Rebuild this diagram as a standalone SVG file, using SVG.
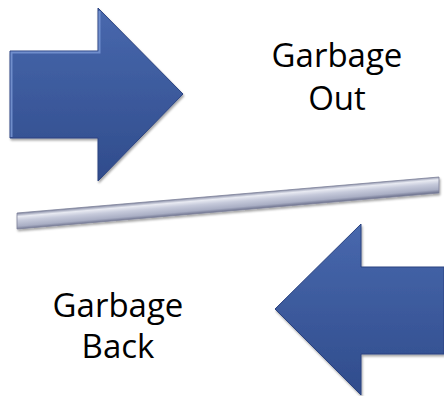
<svg xmlns="http://www.w3.org/2000/svg" width="444" height="396" viewBox="0 0 444 396">
<defs>
<linearGradient id="blue" x1="0" y1="0" x2="0" y2="1">
<stop offset="0" stop-color="#4868ad"/>
<stop offset="1" stop-color="#304c8c"/>
</linearGradient>
<linearGradient id="silver" gradientUnits="userSpaceOnUse" x1="227.3" y1="195" x2="228.7" y2="211">
<stop offset="0" stop-color="#8a8fa8"/>
<stop offset="0.2" stop-color="#e8eaf2"/>
<stop offset="0.45" stop-color="#c6cadb"/>
<stop offset="0.8" stop-color="#a9aec4"/>
<stop offset="1" stop-color="#6f7490"/>
</linearGradient>
<filter id="sh" x="-10%" y="-10%" width="120%" height="120%">
<feGaussianBlur in="SourceAlpha" stdDeviation="1"/>
<feOffset dx="1" dy="1.5" result="b"/>
<feFlood flood-color="#000" flood-opacity="0.35"/>
<feComposite in2="b" operator="in"/>
<feMerge><feMergeNode/><feMergeNode in="SourceGraphic"/></feMerge>
</filter>
</defs>
<style>
.arrow{fill:url(#blue);stroke:#2a4280;stroke-width:1;stroke-linejoin:miter}
.bevel{fill:none;stroke:#7c9ad6;stroke-width:2;opacity:0.8}
.lbl{font-family:"Open Sans","Liberation Sans",sans-serif;font-size:33px;fill:#000;text-anchor:middle}
</style>
<g id="arrow-right" filter="url(#sh)">
<polygon class="arrow" points="10,51 98,51 98,8 183,94 98,181 98,138 10,138"/>
<polyline class="bevel" points="11.5,137 11.5,52.5 99.5,52.5 99.5,11"/>
</g>
<g id="label-out">
<text class="lbl" x="337" y="67">Garbage</text>
<text class="lbl" x="337" y="110">Out</text>
</g>
<g id="divider" filter="url(#sh)">
<polygon points="17,213 439,177 439,193 17,229" fill="url(#silver)" stroke="#7d8299" stroke-width="0.8"/>
</g>
<g id="arrow-left" filter="url(#sh)">
<polygon class="arrow" points="444,267 361,267 361,224 275,309 361,395 361,354 444,354"/>
</g>
<g id="label-back">
<text class="lbl" x="118" y="317">Garbage</text>
<text class="lbl" x="118" y="358">Back</text>
</g>
</svg>
